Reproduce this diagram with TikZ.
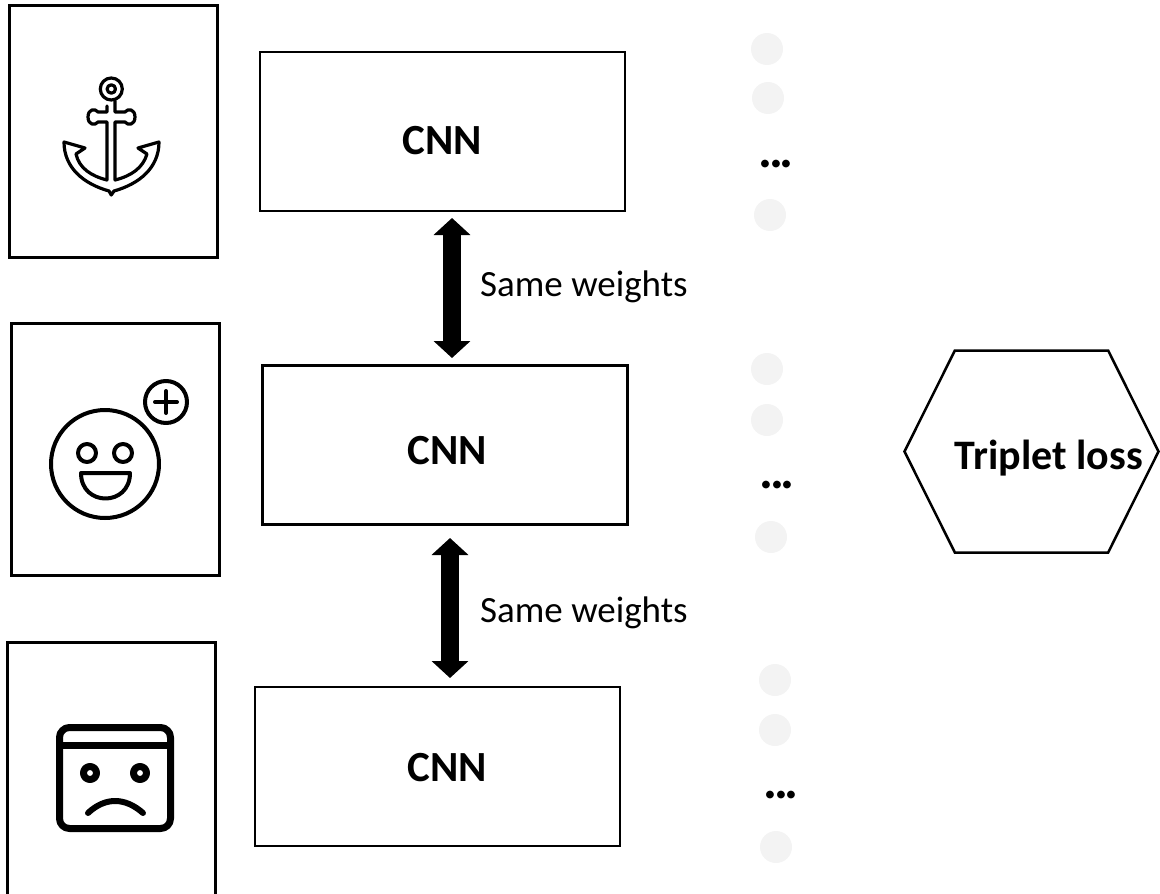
\documentclass[tikz,border=0pt]{standalone}
\usepackage{fontspec}
\setmainfont{Carlito}
\usetikzlibrary{arrows.meta,shapes.symbols}
\definecolor{neurongray}{HTML}{F3F3F3}

\begin{document}
\begin{tikzpicture}[x=1pt,y=-1pt,
    imgbox/.style={draw,line width=3pt,minimum width=208pt,minimum height=252pt,inner sep=0pt},
    cnnbox/.style={draw,line width=2.5pt,minimum width=365pt,minimum height=159pt,inner sep=0pt},
    cnnlabel/.style={font=\fontsize{43}{47}\selectfont\bfseries,inner sep=0pt},
    losslabel/.style={font=\fontsize{42}{46}\selectfont\bfseries,inner sep=0pt},
    weightlabel/.style={font=\fontsize{37}{41}\selectfont,inner sep=0pt},
    neuron/.style={circle,fill=neurongray,minimum size=32pt,inner sep=0pt},
    moredots/.style={font=\fontsize{52}{56}\selectfont\bfseries,inner sep=0pt},
    lossbox/.style={draw,line width=2.5pt,signal,signal to=west and east,signal pointer angle=127,
      minimum width=254pt,minimum height=202pt,inner sep=0pt},
    weightarrow/.style={line width=18pt,{Triangle[length=17pt,width=36pt]}-{Triangle[length=17pt,width=36pt]}},
    icon/.style={line width=3.2pt,line join=round,line cap=round}]

  \useasboundingbox (0,0) rectangle (1160,894);

  \node[imgbox]  (anchorimg) at (113.5,131)  { };
  \node[imgbox]  (smileimg)  at (115,449.5)  { };
  \draw[line width=3pt] (7,894) |- (215,642) -- (215,894);

  \node[cnnbox]  (cnnA) at (442.5,131.5) { };
  \node[cnnbox]  (cnnB) at (445,445)     { };
  \node[cnnbox]  (cnnC) at (437.5,766.5) { };

  \node[cnnlabel] (cnnlabelA) at (442,141) {CNN};
  \node[cnnlabel] (cnnlabelB) at (447,451) {CNN};
  \node[cnnlabel] (cnnlabelC) at (447,768) {CNN};

  \node[neuron] (nA1) at (767,49)  { };
  \node[neuron] (nA2) at (768,98)  { };
  \node[neuron] (nA3) at (770,215) { };
  \node[neuron] (nB1) at (767,369) { };
  \node[neuron] (nB2) at (767,420) { };
  \node[neuron] (nB3) at (771,537) { };
  \node[neuron] (nC1) at (775,680) { };
  \node[neuron] (nC2) at (775,730) { };
  \node[neuron] (nC3) at (776,847) { };

  \node[moredots] (dotsA) at (776,164) {.\kern-3pt.\kern-3pt.};
  \node[moredots] (dotsB) at (777,485) {.\kern-3pt.\kern-3pt.};
  \node[moredots] (dotsC) at (781,795) {.\kern-3pt.\kern-3pt.};

  \coordinate (arrowAtop) at (452,218);
  \coordinate (arrowAbot) at (452,358);
  \coordinate (arrowBtop) at (450,538);
  \coordinate (arrowBbot) at (450,678);
  \draw[weightarrow] (arrowAtop) -- (arrowAbot);
  \draw[weightarrow] (arrowBtop) -- (arrowBbot);

  \node[weightlabel,anchor=west] (sameA) at (480,287) {Same weights};
  \node[weightlabel,anchor=west] (sameB) at (480,613) {Same weights};

  \node[lossbox]   (loss)      at (1031.5,451.5) { };
  \node[losslabel] (losstext)  at (1049,458)     {Triplet loss};

  % anchor
  \draw[icon] (111.3,89) circle (11pt) (111.3,89) circle (4.2pt);
  \draw[icon] (107,106) -- (107,112) -- (98,112)
      .. controls (95,108) and (88,109) .. (88,117) .. controls (88,125) and (95,126) .. (98,122) -- (107,122) -- (107,180)
      .. controls (91,176) and (79,168) .. (76,154) -- (85,148) -- (64,142)
      .. controls (64,168) and (84,184) .. (109,191) -- (111.3,195) -- (114,191)
      .. controls (139,184) and (159,168) .. (159,142) -- (138,148) -- (147,154)
      .. controls (143,168) and (131,176) .. (115,180) -- (115,122) -- (125,122)
      .. controls (128,126) and (135,125) .. (135,117) .. controls (135,109) and (128,108) .. (125,112) -- (115,112) -- (115,101);

  % smile
  \begin{scope}[icon,line width=4pt]
    \draw (105,464) circle (54pt);
    \draw (87,453) circle (9pt) (123,453) circle (9pt);
    \draw (81,473) -- (130,473) .. controls (130,507) and (81,507) .. (81,473) -- cycle;
    \draw (166,402) circle (21pt);
    \draw (166,391) -- (166,413) (155,402) -- (177,402);
  \end{scope}

  % sad
  \begin{scope}[icon,line width=7pt]
    \draw[rounded corners=10pt] (59.5,727.5) rectangle (170.5,828.5);
    \draw[line cap=butt] (59.5,745) -- (170.5,745);
    \draw (90,773) circle (6.5pt) (140,773) circle (6.5pt);
    \draw[line width=6pt] (88,813) .. controls (105,797) and (125,797) .. (143,813);
  \end{scope}
\end{tikzpicture}
\end{document}
